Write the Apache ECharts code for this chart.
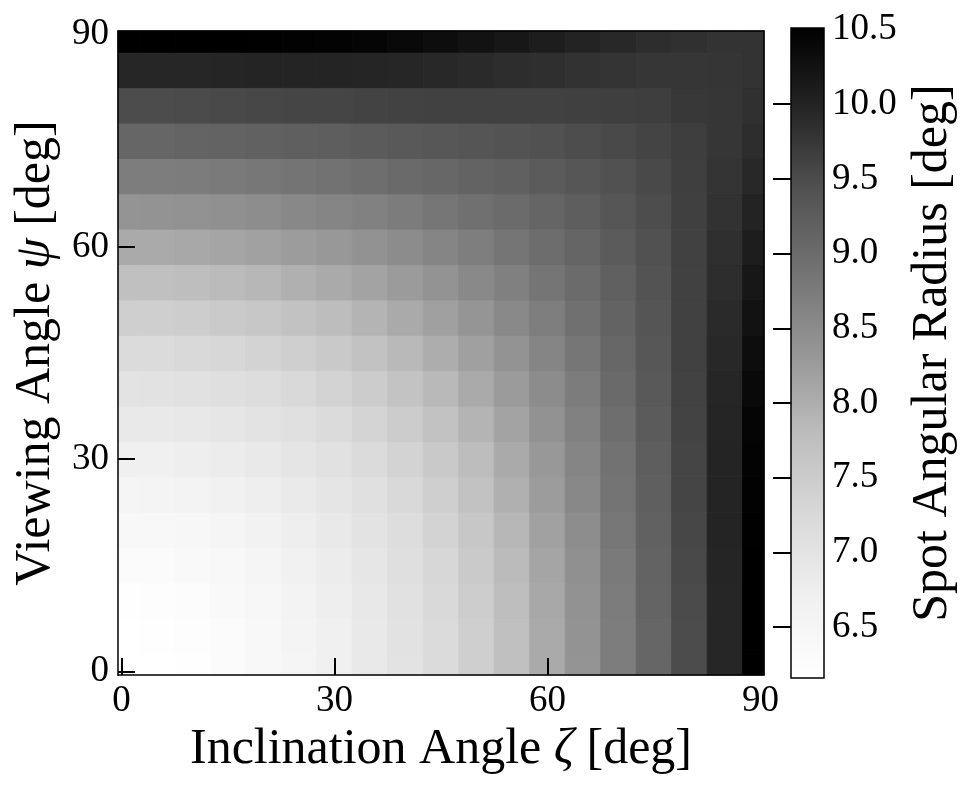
<!DOCTYPE html>
<html>
<head>
<meta charset="utf-8">
<script src="https://cdn.jsdelivr.net/npm/echarts@6/dist/echarts.min.js"></script>
<style>
  html, body { margin: 0; padding: 0; background: #ffffff; }
  #chart { width: 965px; height: 785px; }
</style>
</head>
<body>
<div id="chart"></div>
<script>
// Inclination angle zeta (columns) and viewing angle psi (rows), degrees
const ZETA = [0, 5, 10, 15, 20, 25, 30, 35, 40, 45, 50, 55, 60, 65, 70, 75, 80, 85, 90];
const PSI  = [0, 5, 10, 15, 20, 25, 30, 35, 40, 45, 50, 55, 60, 65, 70, 75, 80, 85, 90];

// Spot angular radius [deg]; one row per psi value, one column per zeta value
const RADIUS = [
  [6.16, 6.17, 6.21, 6.29, 6.40, 6.54, 6.70, 6.86, 7.02, 7.20, 7.44, 7.73, 8.05, 8.37, 8.72, 9.10, 9.50, 9.95, 10.51],
  [6.17, 6.19, 6.23, 6.31, 6.42, 6.56, 6.71, 6.87, 7.03, 7.21, 7.45, 7.74, 8.06, 8.38, 8.73, 9.10, 9.50, 9.95, 10.51],
  [6.21, 6.23, 6.28, 6.36, 6.46, 6.60, 6.75, 6.90, 7.06, 7.24, 7.48, 7.77, 8.08, 8.40, 8.74, 9.12, 9.51, 9.96, 10.51],
  [6.29, 6.31, 6.36, 6.43, 6.53, 6.66, 6.80, 6.95, 7.10, 7.29, 7.53, 7.82, 8.12, 8.43, 8.77, 9.14, 9.53, 9.97, 10.51],
  [6.40, 6.42, 6.46, 6.53, 6.64, 6.75, 6.88, 7.01, 7.16, 7.36, 7.60, 7.88, 8.18, 8.48, 8.82, 9.17, 9.55, 9.98, 10.50],
  [6.54, 6.56, 6.60, 6.66, 6.75, 6.85, 6.97, 7.09, 7.25, 7.45, 7.70, 7.97, 8.25, 8.55, 8.86, 9.21, 9.58, 9.98, 10.48],
  [6.70, 6.71, 6.75, 6.80, 6.88, 6.97, 7.07, 7.19, 7.36, 7.56, 7.79, 8.05, 8.31, 8.60, 8.90, 9.23, 9.58, 9.98, 10.46],
  [6.86, 6.87, 6.90, 6.95, 7.01, 7.09, 7.19, 7.34, 7.50, 7.70, 7.92, 8.16, 8.40, 8.66, 8.96, 9.27, 9.60, 9.97, 10.43],
  [7.02, 7.03, 7.06, 7.10, 7.16, 7.25, 7.36, 7.50, 7.67, 7.85, 8.05, 8.26, 8.49, 8.74, 9.02, 9.31, 9.61, 9.95, 10.38],
  [7.20, 7.21, 7.24, 7.29, 7.36, 7.45, 7.56, 7.70, 7.85, 8.02, 8.20, 8.38, 8.60, 8.83, 9.07, 9.34, 9.63, 9.93, 10.32],
  [7.44, 7.45, 7.48, 7.53, 7.60, 7.70, 7.79, 7.92, 8.05, 8.20, 8.35, 8.53, 8.71, 8.92, 9.14, 9.37, 9.63, 9.91, 10.25],
  [7.73, 7.74, 7.77, 7.82, 7.88, 7.97, 8.05, 8.16, 8.26, 8.38, 8.53, 8.67, 8.84, 9.01, 9.20, 9.40, 9.63, 9.87, 10.17],
  [8.05, 8.06, 8.08, 8.12, 8.18, 8.25, 8.31, 8.40, 8.49, 8.60, 8.71, 8.84, 8.97, 9.11, 9.27, 9.44, 9.63, 9.84, 10.09],
  [8.37, 8.38, 8.40, 8.43, 8.48, 8.55, 8.60, 8.66, 8.74, 8.83, 8.92, 9.01, 9.11, 9.23, 9.35, 9.48, 9.64, 9.81, 10.00],
  [8.72, 8.73, 8.74, 8.77, 8.82, 8.86, 8.90, 8.96, 9.02, 9.07, 9.14, 9.20, 9.27, 9.35, 9.43, 9.53, 9.65, 9.78, 9.93],
  [9.10, 9.10, 9.12, 9.14, 9.17, 9.21, 9.23, 9.27, 9.31, 9.34, 9.37, 9.40, 9.44, 9.48, 9.53, 9.59, 9.67, 9.76, 9.87],
  [9.50, 9.50, 9.51, 9.53, 9.55, 9.58, 9.58, 9.60, 9.61, 9.63, 9.63, 9.63, 9.63, 9.64, 9.65, 9.67, 9.74, 9.76, 9.83],
  [9.95, 9.95, 9.96, 9.97, 9.98, 9.98, 9.98, 9.97, 9.95, 9.93, 9.91, 9.87, 9.84, 9.81, 9.78, 9.76, 9.76, 9.77, 9.80],
  [10.51, 10.51, 10.51, 10.51, 10.50, 10.48, 10.46, 10.43, 10.38, 10.32, 10.25, 10.17, 10.09, 10.00, 9.93, 9.87, 9.83, 9.80, 9.80]
];

// Axis ticks and colour-bar scale
const X_TICKS = [0, 30, 60, 90];
const Y_TICKS = [0, 30, 60, 90];
const CBAR_TICKS = [6.5, 7.0, 7.5, 8.0, 8.5, 9.0, 9.5, 10.0];
const CBAR_LABELS = [6.5, 7.0, 7.5, 8.0, 8.5, 9.0, 9.5, 10.0, 10.5];
const CBAR_RANGE = [6.16, 10.51];

// Greys colour map, light to dark
const GREYS = ['#ffffff', '#f0f0f0', '#d9d9d9', '#bdbdbd', '#969696', '#737373', '#525252', '#252525', '#000000'];
const FONT = 'Liberation Serif';
const TICK_SIZE = 37;
const TITLE_SIZE = 50;

const cells = [];
PSI.forEach((psi, r) => {
  ZETA.forEach((zeta, c) => cells.push([zeta, psi, RADIUS[r][c]]));
});
const halfX = (ZETA[1] - ZETA[0]) / 2;
const halfY = (PSI[1] - PSI[0]) / 2;

function renderCell(params, api) {
  const x = api.value(0);
  const y = api.value(1);
  const a = api.coord([x - halfX, y + halfY]);
  const b = api.coord([x + halfX, y - halfY]);
  const cs = params.coordSys;
  const shape = echarts.graphic.clipRectByRect(
    { x: a[0], y: a[1], width: b[0] - a[0], height: b[1] - a[1] },
    { x: cs.x, y: cs.y, width: cs.width, height: cs.height }
  );
  if (!shape) return;
  const color = api.visual('color');
  return { type: 'rect', shape: shape, style: { fill: color, stroke: color, lineWidth: 1 } };
}

function renderBar(params, api) {
  const a = api.coord([0, api.value(1)]);
  const b = api.coord([1, api.value(0)]);
  const stops = GREYS.map((c, i) => ({ offset: i / (GREYS.length - 1), color: c }));
  return {
    type: 'rect',
    shape: { x: a[0], y: a[1], width: b[0] - a[0], height: b[1] - a[1] },
    style: { fill: new echarts.graphic.LinearGradient(0, 1, 0, 0, stops), stroke: '#000', lineWidth: 1.5 }
  };
}

const textBase = { fontFamily: FONT, color: '#000' };
const frameLine = { show: true, onZero: false, lineStyle: { color: '#000', width: 1.5 } };
const titleStyle = {
  fontSize: TITLE_SIZE, ...textBase,
  rich: { g: { fontSize: TITLE_SIZE, fontStyle: 'italic', ...textBase } }
};

const chart = echarts.init(document.getElementById('chart'), null, { renderer: 'canvas' });
chart.setOption({
  animation: false,
  backgroundColor: '#ffffff',
  grid: [
    { left: 118, top: 31, width: 646, height: 644 },
    { left: 791, top: 28, width: 33, height: 650 }
  ],
  visualMap: {
    type: 'continuous', show: false, seriesIndex: 0, dimension: 2,
    min: CBAR_RANGE[0], max: CBAR_RANGE[1],
    inRange: { color: GREYS }
  },
  xAxis: [
    {
      gridIndex: 0, type: 'value', min: -0.5, max: 90.5, position: 'bottom', z: 10,
      axisLine: frameLine,
      axisTick: { show: true, inside: true, length: 17, customValues: X_TICKS, lineStyle: { color: '#000', width: 2 } },
      axisLabel: { customValues: X_TICKS, fontSize: TICK_SIZE, margin: 8, ...textBase },
      splitLine: { show: false },
      name: 'Inclination Angle {g|ζ} [deg]', nameLocation: 'middle', nameGap: 50,
      nameTextStyle: titleStyle
    },
    {
      gridIndex: 0, type: 'value', min: -0.5, max: 90.5, position: 'top', z: 10,
      axisLine: frameLine, axisTick: { show: false }, axisLabel: { show: false }, splitLine: { show: false }
    },
    { gridIndex: 1, type: 'value', min: 0, max: 1, show: false }
  ],
  yAxis: [
    {
      gridIndex: 0, type: 'value', min: -0.5, max: 90.5, position: 'left', z: 10,
      axisLine: frameLine,
      axisTick: { show: true, inside: true, length: 17, customValues: Y_TICKS, lineStyle: { color: '#000', width: 2 } },
      axisLabel: { customValues: Y_TICKS, fontSize: TICK_SIZE, margin: 9, ...textBase },
      splitLine: { show: false },
      name: 'Viewing Angle {g|ψ} [deg]', nameLocation: 'middle', nameGap: 56, nameRotate: 90,
      nameTextStyle: titleStyle
    },
    {
      gridIndex: 0, type: 'value', min: -0.5, max: 90.5, position: 'right', z: 10,
      axisLine: frameLine, axisTick: { show: false }, axisLabel: { show: false }, splitLine: { show: false }
    },
    {
      gridIndex: 1, type: 'value', min: CBAR_RANGE[0], max: CBAR_RANGE[1], position: 'right', z: 10,
      axisLine: { show: false },
      axisTick: { show: true, inside: true, length: 18, customValues: CBAR_TICKS, lineStyle: { color: '#000', width: 2 } },
      axisLabel: { customValues: CBAR_LABELS, fontSize: TICK_SIZE, margin: 8, formatter: v => v.toFixed(1), ...textBase },
      splitLine: { show: false },
      name: 'Spot Angular Radius [deg]', nameLocation: 'middle', nameGap: 84, nameRotate: 90,
      nameTextStyle: { fontSize: TITLE_SIZE, ...textBase }
    }
  ],
  series: [
    {
      type: 'custom', xAxisIndex: 0, yAxisIndex: 0, renderItem: renderCell,
      encode: { x: 0, y: 1 }, data: cells, silent: true
    },
    {
      type: 'custom', xAxisIndex: 2, yAxisIndex: 2, renderItem: renderBar,
      data: [CBAR_RANGE], silent: true
    }
  ]
});
</script>
</body>
</html>
